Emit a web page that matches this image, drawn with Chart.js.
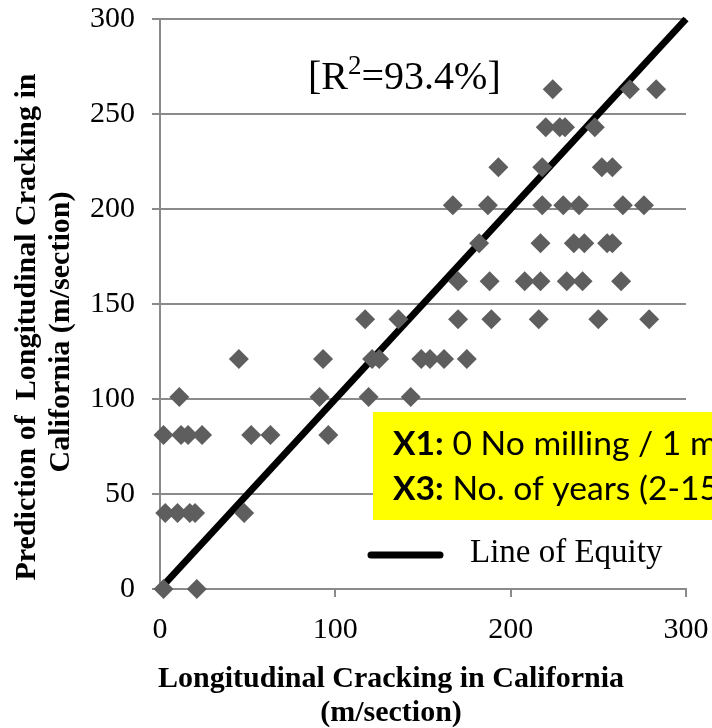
<!DOCTYPE html>
<html>
<head>
<meta charset="utf-8">
<script src="https://cdn.jsdelivr.net/npm/chart.js@4.4.0/dist/chart.umd.min.js"></script>
<style>
  html, body { margin: 0; padding: 0; background: #fff; }
  canvas { display: block; }
</style>
</head>
<body>
<canvas id="crackChart" width="712" height="728"></canvas>
<script>
// ====== Chart Data ======
const measuredCracking = [
  2, 21,
  3, 10, 17, 20, 48,
  2, 12, 16, 24, 52, 63, 96,
  11, 91, 119, 143,
  45, 93, 121, 125, 149, 154, 162, 175,
  117, 136, 170, 189, 216, 250, 279,
  170, 188, 208, 217, 232, 241, 263,
  182, 217, 236, 242, 255, 258,
  167, 187, 218, 230, 239, 264, 276,
  193, 218, 252, 258,
  220, 228, 231, 248,
  224, 268, 283
];
const predictedCracking = [
  0, 0,
  40, 40, 40, 40, 40,
  81, 81, 81, 81, 81, 81, 81,
  101, 101, 101, 101,
  121, 121, 121, 121, 121, 121, 121, 121,
  142, 142, 142, 142, 142, 142, 142,
  162, 162, 162, 162, 162, 162, 162,
  182, 182, 182, 182, 182, 182,
  202, 202, 202, 202, 202, 202, 202,
  222, 222, 222, 222,
  243, 243, 243, 243,
  263, 263, 263
];
const equityX = [0, 300];
const equityY = [0, 300];
const xTicks = [0, 100, 200, 300];
const yTicks = [0, 50, 100, 150, 200, 250, 300];
const rSquared = "93.4%";
const noteLines = [
  ["X1:", " 0 No milling / 1 milling"],
  ["X3:", " No. of years (2-15)"]
];

const SERIF = "'Liberation Serif', 'Times New Roman', serif";
const GRID = "#8a8a8a";

// ====== Titles, R2 label, note box, legend ======
const annotations = {
  id: "annotations",
  afterDatasetsDraw(chart) {
    const ctx = chart.ctx;
    ctx.save();
    ctx.fillStyle = "#000";

    // y axis title (rotated, two lines)
    ctx.font = "bold 30px " + SERIF;
    ctx.textAlign = "center";
    ctx.textBaseline = "alphabetic";
    [["Prediction of  Longitudinal Cracking in", 35, 327],
     ["California (m/section)", 69, 332]].forEach(([txt, x, y]) => {
      ctx.save();
      ctx.translate(x, y);
      ctx.rotate(-Math.PI / 2);
      ctx.fillText(txt, 0, 0);
      ctx.restore();
    });

    // x axis title
    ctx.fillText("Longitudinal Cracking in California", 391, 687);
    ctx.fillText("(m/section)", 391, 721);

    // R squared
    ctx.textAlign = "left";
    ctx.font = "40px " + SERIF;
    let x = 308;
    ctx.fillText("[R", x, 89);
    x += ctx.measureText("[R").width;
    ctx.font = "27px " + SERIF;
    ctx.fillText("2", x, 74);
    x += ctx.measureText("2").width;
    ctx.font = "40px " + SERIF;
    ctx.fillText("=" + rSquared + "]", x, 89);

    // yellow note box
    ctx.fillStyle = "#ffff00";
    ctx.fillRect(373, 412, 712 - 373, 108);
    ctx.fillStyle = "#000";
    ctx.font = "bold 33px Lato";
    const boldW = ctx.measureText("X1:").width;
    ctx.font = "33px Lato";
    const sx = 297 / (boldW + ctx.measureText(" 0 No milling / 1 ").width);
    noteLines.forEach(([head, rest], i) => {
      ctx.save();
      ctx.translate(393, 455 + i * 45);
      ctx.scale(sx, 1);
      ctx.font = "bold 33px Lato";
      ctx.fillText(head, 0, 0);
      const w = ctx.measureText(head).width;
      ctx.font = "33px Lato";
      ctx.fillText(rest, w, 0);
      ctx.restore();
    });

    // legend
    ctx.strokeStyle = "#000";
    ctx.lineWidth = 7;
    ctx.lineCap = "round";
    ctx.beginPath();
    ctx.moveTo(371, 555);
    ctx.lineTo(440, 555);
    ctx.stroke();
    ctx.font = "33px " + SERIF;
    ctx.fillText(chart.data.datasets[1].label, 470, 562);

    ctx.restore();
  }
};

// drop the label overflow padding so the plot area is set by layout.padding
function fixPadding(s) {
  s.paddingTop = 0;
  s.paddingBottom = 0;
  s.paddingLeft = 0;
  s.paddingRight = 0;
}

// ====== Build Chart ======
const ctx = document.getElementById("crackChart").getContext("2d");

new Chart(ctx, {
  type: "scatter",
  data: {
    datasets: [
      {
        label: "Predicted",
        data: measuredCracking.map((v, i) => ({ x: v, y: predictedCracking[i] })),
        pointStyle: "rectRot",
        pointRadius: 10,
        pointHoverRadius: 10,
        backgroundColor: "#5e5e5e",
        borderWidth: 0,
        clip: false,
        order: 0
      },
      {
        type: "line",
        label: "Line of Equity",
        data: equityX.map((v, i) => ({ x: v, y: equityY[i] })),
        borderColor: "#000",
        borderWidth: 7,
        pointRadius: 0,
        fill: false,
        clip: 4,
        order: 1
      }
    ]
  },
  options: {
    responsive: false,
    animation: false,
    layout: { padding: { top: 19, right: 26, left: 0, bottom: 0 } },
    plugins: {
      legend: { display: false },
      tooltip: { enabled: false }
    },
    scales: {
      x: {
        type: "linear",
        min: 0,
        max: 300,
        afterBuildTicks: s => { s.ticks = xTicks.map(v => ({ value: v })); },
        afterFit: s => { s.height = 139; fixPadding(s); },
        grid: {
          drawOnChartArea: false,
          tickLength: 8,
          lineWidth: 2,
          color: c => (c.tick && c.tick.value === 0 ? "rgba(0,0,0,0)" : GRID)
        },
        border: { color: GRID, width: 2 },
        ticks: {
          padding: 15,
          color: "#000",
          font: { family: SERIF, size: 30 }
        }
      },
      y: {
        min: 0,
        max: 300,
        afterBuildTicks: s => { s.ticks = yTicks.map(v => ({ value: v })); },
        afterFit: s => { s.width = 160; fixPadding(s); },
        grid: {
          tickLength: 8,
          lineWidth: 2,
          color: GRID
        },
        border: { color: GRID, width: 2 },
        ticks: {
          padding: 17,
          color: "#000",
          font: { family: SERIF, size: 30 }
        }
      }
    }
  },
  plugins: [annotations]
});
</script>
</body>
</html>
